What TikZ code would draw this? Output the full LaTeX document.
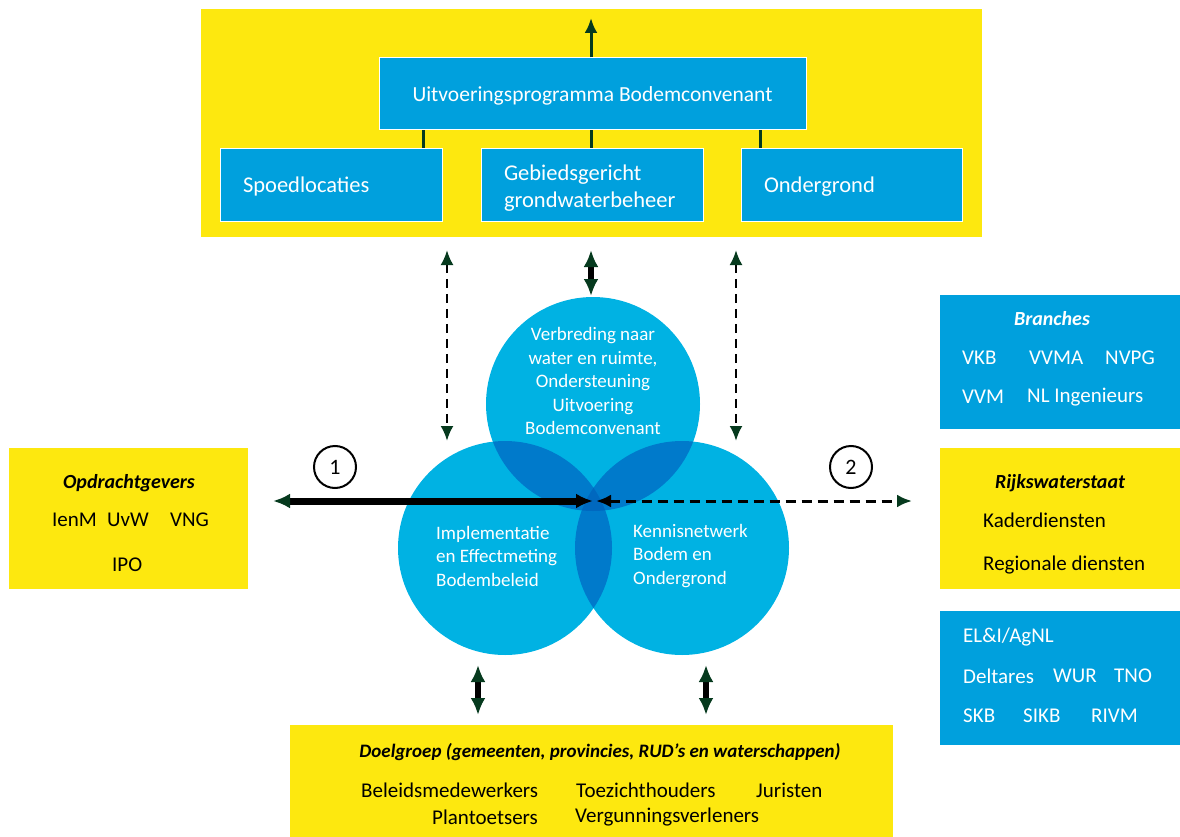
\documentclass[tikz,border=0pt]{standalone}
\usepackage{fontspec}
\setmainfont{Carlito}
\usepackage{tikz}
\usetikzlibrary{arrows.meta,
                positioning}
\definecolor{geel}{HTML}{FDE80F}
\definecolor{blauw}{HTML}{00A0DD}
\definecolor{bol}{HTML}{00B2E3}
\definecolor{bolb}{HTML}{007ACB}
\definecolor{bolc}{HTML}{0068BF}
\definecolor{groen}{HTML}{063A1E}

\begin{document}
\begin{tikzpicture}[x=1pt,y=-1pt,
    geelstyle/.style={fill=geel, inner sep=0pt},
    blauwstyle/.style={fill=blauw, draw=white, line width=1pt, text=white, minimum height=72pt, inner xsep=23pt, text depth=0pt, align=left, font=\fontsize{22.5}{27}\selectfont},
    vakstyle/.style={fill=blauw, inner sep=0pt},
    bolstyle/.style={circle, fill=bol, minimum size=214pt, inner sep=0pt},
    boltekst/.style={inner sep=0pt, text=white, font=\fontsize{19}{23.5}\selectfont},
    tekststyle/.style={inner sep=0pt, anchor=west, font=\fontsize{21}{25}\selectfont},
    kopstyle/.style={inner sep=0pt, font=\fontsize{20}{24}\selectfont\bfseries\itshape},
    nrstyle/.style={circle, draw=black, line width=2pt, fill=white, minimum size=42pt, inner sep=0pt, font=\fontsize{22}{26}\selectfont},
    gk/.tip={Latex[length=15pt,width=13pt,color=groen]},
    gkk/.tip={Latex[length=17pt,width=15pt,color=groen]},
    zk/.tip={Latex[length=17pt,width=15pt,color=black]},
    zkd/.tip={Latex[length=15pt,width=13pt,color=black]},
    streep/.style={line width=2.5pt, dash pattern=on 9pt off 6pt},
    balk/.style={line width=6pt}]
    \useasboundingbox (0,0) rectangle (1180,837);

    % bovenste vak
    \node (gb) at (591.5,123)[geelstyle, minimum width=781pt, minimum height=228pt]{};
    \node (up) at (592.5,94)[blauwstyle, minimum width=427pt, align=center, font=\fontsize{21.5}{26}\selectfont]{Uitvoeringsprogramma Bodemconvenant};
    \node (sp) at (331,185)[blauwstyle, text width=176pt]{Spoedlocaties};
    \node (gg) at (592,185)[blauwstyle, text width=176pt, text depth=25.5pt]{Gebiedsgericht\\grondwaterbeheer};
    \node (og) at (851.5,185)[blauwstyle, text width=175pt]{Ondergrond};
    \coordinate (x1) at (423,0);
    \coordinate (x2) at (591,0);
    \coordinate (x3) at (760,0);
    \coordinate (pt) at (591,18);
    \draw[groen, line width=3pt](up.south -| x1)--(sp.north -| x1);
    \draw[groen, line width=3pt](up.south -| x2)--(gg.north -| x2);
    \draw[groen, line width=3pt](up.south -| x3)--(og.north -| x3);
    \draw[groen, line width=3pt, -{gk}](up.north -| x2)--(pt);

    % cirkels
    \node (cb) at (593,404)[bolstyle]{};
    \node (cl) at (505,548)[bolstyle]{};
    \node (cr) at (682,548)[bolstyle]{};
    \begin{scope}
        \clip (cb.center) circle (107pt);
        \fill[bolb] (cl.center) circle (107pt) (cr.center) circle (107pt);
    \end{scope}
    \begin{scope}
        \clip (cl.center) circle (107pt);
        \fill[bolb] (cr.center) circle (107pt);
    \end{scope}
    \begin{scope}
        \clip (cl.center) circle (107pt);
        \clip (cr.center) circle (107pt);
        \fill[bolc] (cb.center) circle (107pt);
    \end{scope}
    \node (tb) at (593,381)[boltekst, align=center]{Verbreding naar\\water en ruimte,\\Ondersteuning\\Uitvoering\\Bodemconvenant};
    \node (tl) at (436,556)[boltekst, anchor=west, align=left]{Implementatie\\en Effectmeting\\Bodembeleid};
    \node (tr) at (633,556)[boltekst, anchor=west, align=left]{Kennisnetwerk\\Bodem en\\Ondergrond};

    % pijlen boven
    \coordinate (a1) at (447,250);
    \coordinate (b1) at (447,441);
    \coordinate (a2) at (591,250);
    \coordinate (b2) at (591,296);
    \coordinate (a3) at (736,250);
    \coordinate (b3) at (736,441);
    \draw[streep, {gk}-{gk}](a1)--(b1);
    \draw[balk, {gkk}-{gkk}](a2)--(b2);
    \draw[streep, {gk}-{gk}](a3)--(b3);

    % links
    \node (og1) at (128.5,518.5)[geelstyle, minimum width=239pt, minimum height=141pt]{};
    \node (og2) at (129,483)[kopstyle]{Opdrachtgevers};
    \node (ienm) at (52,520)[tekststyle]{IenM};
    \node (uvw) at (107,520)[tekststyle]{UvW};
    \node (vng) at (170,520)[tekststyle]{VNG};
    \node (ipo) at (112,565)[tekststyle]{IPO};

    % rechts
    \node (br) at (1060,362)[vakstyle, minimum width=240pt, minimum height=134pt]{};
    \node (br0) at (1052,319)[kopstyle, text=white]{Branches};
    \node (vkb) at (962,358)[tekststyle, text=white]{VKB};
    \node (vvma) at (1029,358)[tekststyle, text=white]{VVMA};
    \node (nvpg) at (1105,358)[tekststyle, text=white]{NVPG};
    \node (vvm) at (962,397)[tekststyle, text=white]{VVM};
    \node (nli) at (1027,397)[tekststyle, text=white]{NL Ingenieurs};
    \node (rws) at (1060,518.5)[geelstyle, minimum width=240pt, minimum height=141pt]{};
    \node (rws0) at (1060,483)[kopstyle]{Rijkswaterstaat};
    \node (kd) at (983,520)[tekststyle]{Kaderdiensten};
    \node (rd) at (983,565)[tekststyle]{Regionale diensten};
    \node (ki) at (1060,678)[vakstyle, minimum width=240pt, minimum height=134pt]{};
    \node (eli) at (963,637)[tekststyle, text=white]{EL\&I/AgNL};
    \node (dlt) at (963,676)[tekststyle, text=white]{Deltares};
    \node (wur) at (1053,676)[tekststyle, text=white]{WUR};
    \node (tno) at (1114,676)[tekststyle, text=white]{TNO};
    \node (skb) at (963,716)[tekststyle, text=white]{SKB};
    \node (sikb) at (1023,716)[tekststyle, text=white]{SIKB};
    \node (rivm) at (1091,716)[tekststyle, text=white]{RIVM};

    % pijlen 1 en 2
    \coordinate (l1) at (273,501);
    \coordinate (m1) at (593,501);
    \coordinate (m2) at (596,501);
    \coordinate (r2) at (912,501);
    \draw[line width=7pt, {gkk}-{zk}](l1)--(m1);
    \draw[line width=3pt, dash pattern=on 10pt off 6pt, {zkd}-{gk}](m2)--(r2);
    \node (n1) at (335,467)[nrstyle]{1};
    \node (n2) at (851,467)[nrstyle]{2};

    % onderste vak
    \coordinate (a4) at (478,665);
    \coordinate (b4) at (478,715);
    \coordinate (a5) at (706,665);
    \coordinate (b5) at (706,715);
    \draw[balk, {gkk}-{gkk}](a4)--(b4);
    \draw[balk, {gkk}-{gkk}](a5)--(b5);
    \node (dg) at (591.5,781)[geelstyle, minimum width=603pt, minimum height=112pt]{};
    \node (dg0) at (600,752)[kopstyle, font=\fontsize{19}{23}\selectfont\bfseries\itshape]{Doelgroep (gemeenten, provincies, RUD’s en waterschappen)};
    \node (bm) at (361,790)[tekststyle]{Beleidsmedewerkers};
    \node (th) at (576,790)[tekststyle]{Toezichthouders};
    \node (jr) at (756,790)[tekststyle]{Juristen};
    \node (pt1) at (432,817)[tekststyle]{Plantoetsers};
    \node (vv) at (575,817)[tekststyle]{Vergunningsverleners};
\end{tikzpicture}
\end{document}
